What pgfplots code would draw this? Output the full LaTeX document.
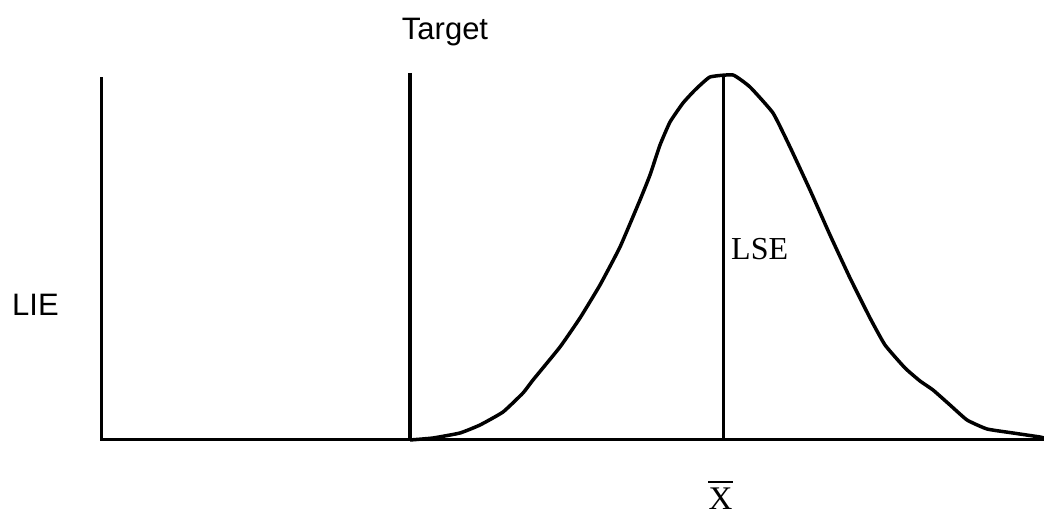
\documentclass[border=0pt]{standalone}
\usepackage{pgfplots}
\pgfplotsset{compat=1.18}
\usepackage{fontspec}
\setmainfont{Liberation Serif}
\newfontfamily\arialfont{Liberation Sans}

% Density curve (x, height)
\pgfplotstableread{
x y
410 76
433 78
460 83
480 91
503 104
523 123
533 136
560 169
580 198
600 231
620 269
640 316
650 341
660 371
670 394
683 413
695 426
710 439
733 441
750 429
773 403
790 369
810 326
830 281
850 238
870 198
885 171
905 148
920 135
933 126
950 111
967 96
987 87
1013 83
1040 79
1044 78
}\densitydata

\begin{document}
\begin{tikzpicture}
\begin{axis}[
  scale only axis,
  width=1044pt, height=516pt,
  xmin=0, xmax=1044, ymin=0, ymax=516,
  axis lines=none,
  clip=false,
]
\path[use as bounding box] (axis cs:0,0) rectangle (axis cs:1044,516);
% left axis and baseline
\addplot[black, line width=3pt, line cap=rect] coordinates {(101,437) (101,76)};
\addplot[black, line width=3pt] coordinates {(100,76) (1044,76)};
% target line
\addplot[black, line width=4pt] coordinates {(410,443) (410,76)};
% mean line
\addplot[black, line width=3pt] coordinates {(723,441) (723,76)};
% curve
\addplot[black, line width=3.5pt, line join=round, smooth, tension=0.25] table[x=x,y=y] {\densitydata};
% labels
\node[anchor=base, font=\arialfont\fontsize{31}{37}\selectfont, inner sep=0pt] at (axis cs:445,476) {Target};
\node[anchor=base west, font=\arialfont\fontsize{31}{37}\selectfont, inner sep=0pt] at (axis cs:12,200) {LIE};
\node[anchor=base west, font=\fontsize{32}{38}\selectfont, inner sep=0pt] at (axis cs:731,256) {LSE};
\node[anchor=base, font=\fontsize{33}{40}\selectfont, inner sep=0pt] at (axis cs:720.5,6) {X};
\addplot[black, line width=2pt] coordinates {(708,34) (733,34)};
\end{axis}
\end{tikzpicture}
\end{document}
